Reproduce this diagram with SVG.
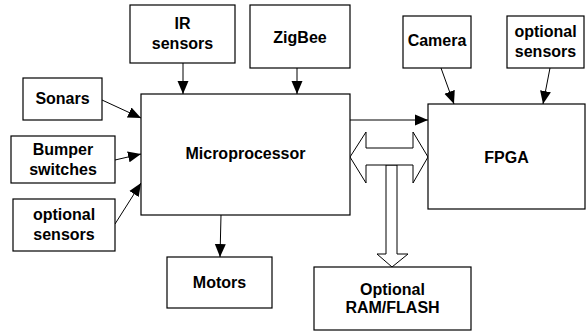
<svg xmlns="http://www.w3.org/2000/svg" width="587" height="331" viewBox="0 0 587 331">
<style>
.box{fill:#fff;stroke:#000;stroke-width:1.2}
.t{font-family:"Liberation Sans",Arial,sans-serif;font-weight:bold;font-size:16px;text-anchor:middle;fill:#000}
.c{stroke:#000;stroke-width:1;fill:none}
.bus{fill:#fff;stroke:#000;stroke-width:1}
</style>
<defs>
<marker id="ah" markerUnits="userSpaceOnUse" markerWidth="14" markerHeight="12" refX="13" refY="6" orient="auto">
<path d="M0,0.5 L13,6 L0,11.5 Z" fill="#000"/>
</marker>
</defs>
<rect width="587" height="331" fill="#fff"/>
<g id="connectors">
<line class="c" x1="183" y1="63" x2="183" y2="94" marker-end="url(#ah)"/>
<line class="c" x1="297" y1="68" x2="297" y2="94" marker-end="url(#ah)"/>
<line class="c" x1="102" y1="100" x2="141" y2="118" marker-end="url(#ah)"/>
<line class="c" x1="115" y1="160" x2="141" y2="154" marker-end="url(#ah)"/>
<line class="c" x1="115" y1="224" x2="141" y2="183" marker-end="url(#ah)"/>
<line class="c" x1="221" y1="215" x2="220" y2="257" marker-end="url(#ah)"/>
<line class="c" x1="441" y1="68" x2="454" y2="104" marker-end="url(#ah)"/>
<line class="c" x1="550" y1="68" x2="543" y2="104" marker-end="url(#ah)"/>
<line class="c" x1="350" y1="120" x2="428" y2="120" marker-end="url(#ah)"/>
<path class="bus" d="M386,165 L386,254 L377,254 L392,267 L408,254 L397,254 L397,165 Z"/>
<path class="bus" d="M350,157 L366,132 L366,148 L413,148 L413,132 L428,157 L413,183 L413,165 L366,165 L366,183 Z"/>
</g>
<g id="ir"><rect class="box" x="130" y="5" width="105" height="58"/><text class="t" x="182.5" y="29">IR</text><text class="t" x="182.5" y="49">sensors</text></g>
<g id="zigbee"><rect class="box" x="250" y="5" width="100" height="63"/><text class="t" x="300" y="43">ZigBee</text></g>
<g id="sonars"><rect class="box" x="23" y="78" width="79" height="42"/><text class="t" x="62.5" y="104">Sonars</text></g>
<g id="bumper"><rect class="box" x="11" y="136" width="104" height="47"/><text class="t" x="63" y="155">Bumper</text><text class="t" x="63" y="175">switches</text></g>
<g id="optleft"><rect class="box" x="13" y="199" width="102" height="52"/><text class="t" x="64" y="220">optional</text><text class="t" x="64" y="240">sensors</text></g>
<g id="micro"><rect class="box" x="141" y="94" width="209" height="121"/><text class="t" x="245.5" y="159">Microprocessor</text></g>
<g id="motors"><rect class="box" x="167" y="257" width="105" height="51"/><text class="t" x="219.5" y="288">Motors</text></g>
<g id="camera"><rect class="box" x="403" y="16" width="68" height="52"/><text class="t" x="437" y="46">Camera</text></g>
<g id="optright"><rect class="box" x="507" y="16" width="77" height="52"/><text class="t" x="545.5" y="37">optional</text><text class="t" x="545.5" y="57">sensors</text></g>
<g id="fpga"><rect class="box" x="428" y="104" width="157" height="105"/><text class="t" x="506.5" y="163">FPGA</text></g>
<g id="ram"><rect class="box" x="314" y="267" width="157" height="63"/><text class="t" x="392.5" y="295">Optional</text><text class="t" x="392.5" y="313">RAM/FLASH</text></g>
</svg>
